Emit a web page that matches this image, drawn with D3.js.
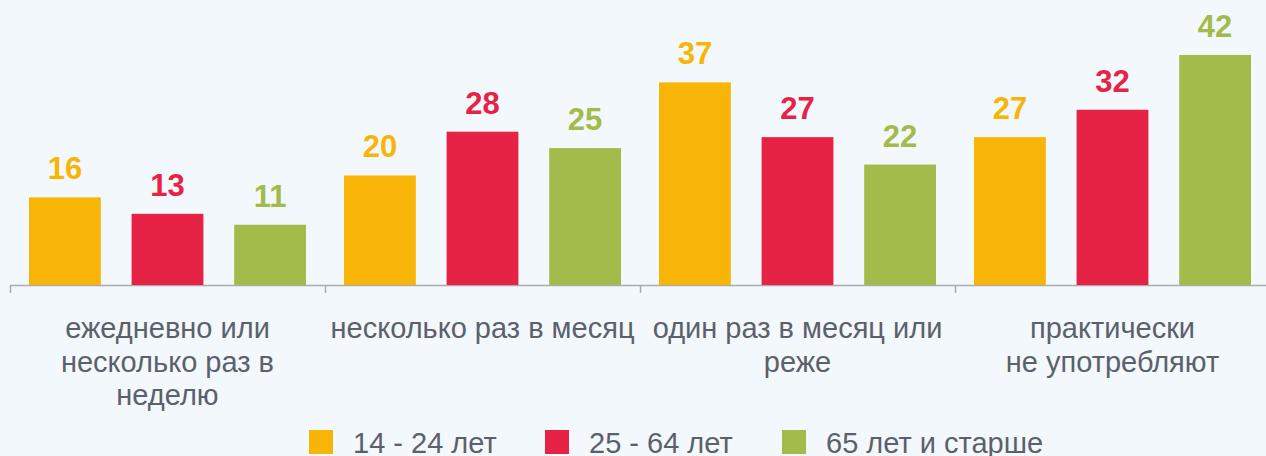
<!DOCTYPE html>
<html>
<head>
<meta charset="utf-8">
<script src="https://cdn.jsdelivr.net/npm/d3@7"></script>
<style>
  body { margin: 0; background: #f3f8fc; }
  svg { display: block; }
</style>
</head>
<body>
<svg id="chart" width="1266" height="456"></svg>
<script>
const categories = [
  ['ежедневно или', 'несколько раз в', 'неделю'],
  ['несколько раз в месяц'],
  ['один раз в месяц или', 'реже'],
  ['практически', 'не употребляют']
];
const series = ['14 - 24 лет', '25 - 64 лет', '65 лет и старше'];
const colors = ['#f9b507', '#e62345', '#a3bb4a'];
const values = [
  [16, 13, 11],
  [20, 28, 25],
  [37, 27, 22],
  [27, 32, 42]
];

const svg = d3.select('#chart');
const baseY = 285;
const font = '"Liberation Sans", Arial, sans-serif';

const x0 = d3.scaleBand().domain(d3.range(categories.length)).range([10, 1270]);
const x1 = d3.scaleBand().domain(d3.range(series.length)).range([19, 296]).paddingInner(0.3);
const y = d3.scaleLinear().domain([0, 42]).range([baseY, 55]);
const color = d3.scaleOrdinal().domain(d3.range(series.length)).range(colors);

// axis with ticks between the groups
const tickScale = d3.scaleLinear().domain([0, categories.length]).range([10, 1270]);
const axis = d3.axisBottom(tickScale)
  .tickValues(d3.range(categories.length + 1))
  .tickSize(8)
  .tickSizeOuter(0)
  .tickFormat('');
const axisG = svg.append('g').attr('transform', `translate(0, ${baseY})`).call(axis);
axisG.selectAll('path, line').attr('stroke', '#a8abb0').attr('stroke-width', 1.5);

const groups = svg.selectAll('g.group')
  .data(values).enter().append('g')
  .attr('class', 'group')
  .attr('transform', (d, i) => `translate(${x0(i)}, 0)`);

groups.selectAll('rect')
  .data(d => d).enter().append('rect')
  .attr('x', (d, i) => x1(i))
  .attr('width', x1.bandwidth())
  .attr('y', d => y(d))
  .attr('height', d => baseY - y(d))
  .attr('fill', (d, i) => color(i));

groups.selectAll('text.value')
  .data(d => d).enter().append('text')
  .attr('class', 'value')
  .attr('x', (d, i) => x1(i) + x1.bandwidth() / 2)
  .attr('y', d => y(d) - 18)
  .attr('text-anchor', 'middle')
  .style('font-family', font)
  .style('font-weight', 'bold')
  .style('font-size', '31px')
  .attr('fill', (d, i) => color(i))
  .text(d => d);

// category labels
svg.selectAll('text.cat')
  .data(categories).enter().append('text')
  .attr('class', 'cat')
  .attr('text-anchor', 'middle')
  .style('font-family', font)
  .style('font-size', '29px')
  .attr('fill', '#5b616b')
  .each(function (d, i) {
    d3.select(this).selectAll('tspan')
      .data(d).enter().append('tspan')
      .attr('x', x0(i) + x0.bandwidth() / 2)
      .attr('y', (line, j) => 338 + j * 33.5)
      .text(line => line);
  });

// legend
const legendX = [309, 545, 782];
const legend = svg.selectAll('g.legend')
  .data(series).enter().append('g')
  .attr('class', 'legend')
  .attr('transform', (d, i) => `translate(${legendX[i]}, 430)`);

legend.append('rect')
  .attr('width', 24)
  .attr('height', 24)
  .attr('fill', (d, i) => color(i));

legend.append('text')
  .attr('x', 44)
  .attr('y', 23)
  .style('font-family', font)
  .style('font-size', '29px')
  .attr('fill', '#5b616b')
  .text(d => d);
</script>
</body>
</html>
